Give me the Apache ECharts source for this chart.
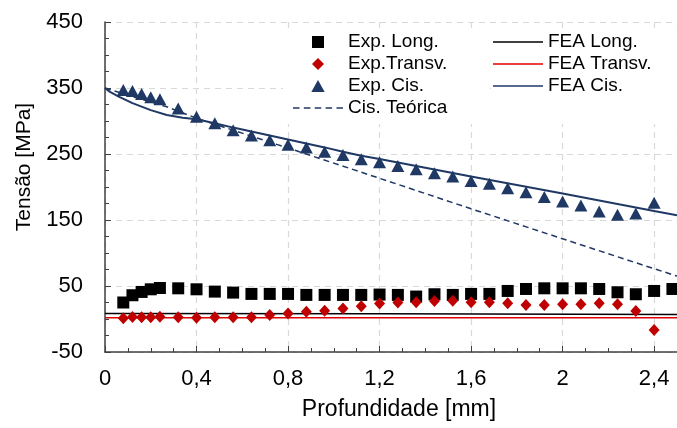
<!DOCTYPE html>
<html>
<head>
<meta charset="utf-8">
<script src="https://cdn.jsdelivr.net/npm/echarts@6/dist/echarts.min.js"></script>
<style>
html,body{margin:0;padding:0;background:#fff;}
#chart{width:677px;height:428px;}
</style>
</head>
<body>
<div id="chart"></div>
<script>
// ---- Data ----
const expX      = [0.08,0.12,0.16,0.20,0.24,0.32,0.40,0.48,0.56,0.64,0.72,0.80,0.88,0.96,1.04,1.12,1.20,1.28,1.36,1.44,1.52,1.60,1.68,1.76,1.84,1.92,2.00,2.08,2.16,2.24,2.32,2.40,2.48];
const expLong   = [25,36,41,45,47,46.5,45,41.5,40,38,38,38,36.5,36.5,36.5,36.5,37,36.5,34,37.5,36.5,38,38,42.5,45.5,46.5,46.5,46.5,45.5,40.5,37.5,42.5,45.5];
const expTransv = [1,3,2.5,2.5,3.5,2.5,2,2.5,2.5,2.5,6,8.5,11,12.5,16,19.5,23.5,25,25.3,27.3,27.7,25.3,25.3,23.7,21.2,21.2,22.2,22.2,23.7,22.2,12,-16.5,null];
const expCis    = [347,345.5,341,336,333,319,306.5,296.5,286,278,271,264,260,253.5,248.5,242,237.5,232,227,221,216,209,205,198,192,185,178,172,163,158,160,176,null];

const feaLongX   = [0, 1.2, 2.5];
const feaLong    = [8.5, 8, 7];
const feaTransvX = [0, 1.2, 2.5];
const feaTransv  = [2, 2, 2];
const feaCisX    = [0,0.02,0.06,0.12,0.20,0.27,0.34,0.40,0.48,0.56,0.64,0.72,0.80,0.88,0.96,1.04,1.12,1.20,1.60,2.00,2.40,2.50];
const feaCis     = [350,344.5,337,327,316.5,309,305,302.5,296.5,290,284,278,272,266,260,253.5,247.5,242.5,216,190,163.5,157];
const cisTeoX    = [0,0.12,0.27,0.41,0.84,1.28,1.60,2.26,2.50];
const cisTeo     = [350,337,321.5,303,254.5,204,167,92,65];

const yTicks = [-50, 50, 150, 250, 350, 450];
const xTicks = [0, 0.4, 0.8, 1.2, 1.6, 2.0, 2.4];

// ---- helpers ----
function pairs(xs, ys) {
  const out = [];
  for (let i = 0; i < xs.length; i++) if (ys[i] !== null && ys[i] !== undefined) out.push([xs[i], ys[i]]);
  return out;
}
const FONT = 'Liberation Sans, Arial, sans-serif';
const NAVY = '#1f3864';
const DRED = '#c00000';
const SOLID_ICON = 'path://M0,0h50v1.6h-50z';
const DASH_ICON = 'path://M0,0h6v1.5h-6z M10,0h6v1.5h-6z M20,0h6v1.5h-6z M30,0h6v1.5h-6z M40,0h6v1.5h-6z';

const chart = echarts.init(document.getElementById('chart'), null, {renderer: 'canvas'});
const option = {
  backgroundColor: '#ffffff',
  animation: false,
  textStyle: {fontFamily: FONT},
  grid: {left: 105, top: 22, right: -6, bottom: 76, containLabel: false},
  xAxis: {
    type: 'value', min: 0, max: 2.5, interval: 0.4,
    name: 'Profundidade [mm]', nameLocation: 'middle', nameGap: 46,
    nameTextStyle: {fontSize: 23, color: '#000', fontFamily: FONT, padding: [0, 0, 0, 16]},
    axisLine: {onZero: false, lineStyle: {color: '#404040', width: 1.5}},
    axisTick: {show: true, inside: true, length: 6, lineStyle: {color: '#404040'}},
    minorTick: {show: true, splitNumber: 4, length: 4, lineStyle: {color: '#404040'}},
    axisLabel: {
      fontSize: 22, color: '#000', margin: 16, fontFamily: FONT, showMaxLabel: false,
      formatter: v => (xTicks.some(t => Math.abs(t - v) < 1e-6) ? String(+v.toFixed(2)).replace('.', ',') : '')
    },
    splitLine: {show: true, lineStyle: {color: '#d9d9d9', type: [6, 5], width: 1.2}}
  },
  yAxis: {
    type: 'value', min: -50, max: 450, interval: 100,
    name: 'Tensão [MPa]', nameLocation: 'middle', nameGap: 70,
    nameTextStyle: {fontSize: 21, color: '#000', fontFamily: FONT, padding: [0, 0, 0, 40]},
    axisLine: {show: true, lineStyle: {color: '#404040', width: 1.5}},
    axisTick: {show: true, inside: true, length: 6, lineStyle: {color: '#404040'}},
    minorTick: {show: true, splitNumber: 4, length: 4, lineStyle: {color: '#404040'}},
    axisLabel: {
      fontSize: 22, color: '#000', margin: 22, fontFamily: FONT,
      formatter: v => (yTicks.indexOf(v) >= 0 ? String(v) : '')
    },
    splitLine: {show: true, lineStyle: {color: '#d9d9d9', type: [6, 5], width: 1.2}}
  },
  legend: [
    {
      orient: 'vertical', left: 283, top: 28,
      padding: [4, 40, 6, 10], itemGap: 2, itemWidth: 50, itemHeight: 12,
      backgroundColor: '#ffffff',
      textStyle: {fontSize: 19, color: '#000', fontFamily: FONT, lineHeight: 20},
      data: [
        {name: 'Exp. Long.', icon: 'path://M0,0L1,0L1,1L0,1Z'},
        {name: 'Exp.Transv.', icon: 'path://M1,0L2,1L1,2L0,1Z'},
        {name: 'Exp. Cis.', icon: 'path://M1,0L2,1.8L0,1.8Z'},
        {name: 'Cis. Teórica', icon: DASH_ICON}
      ]
    },
    {
      orient: 'vertical', left: 491, top: 28,
      padding: [4, 40, 28, 2], itemGap: 2, itemWidth: 50, itemHeight: 12,
      backgroundColor: '#ffffff',
      textStyle: {fontSize: 19, color: '#000', fontFamily: FONT, lineHeight: 20},
      data: [
        {name: 'FEA Long.', icon: SOLID_ICON},
        {name: 'FEA Transv.', icon: SOLID_ICON},
        {name: 'FEA Cis.', icon: SOLID_ICON}
      ]
    }
  ],
  series: [
    {name: 'Cis. Teórica', type: 'line', symbol: 'none', z: 2,
     lineStyle: {color: NAVY, width: 1.5, type: [6, 4]}, itemStyle: {color: NAVY},
     data: pairs(cisTeoX, cisTeo)},
    {name: 'FEA Long.', type: 'line', symbol: 'none', z: 2,
     lineStyle: {color: '#000', width: 1.5}, itemStyle: {color: '#000'},
     data: pairs(feaLongX, feaLong)},
    {name: 'FEA Transv.', type: 'line', symbol: 'none', z: 2,
     lineStyle: {color: '#e00000', width: 1.5}, itemStyle: {color: '#e00000'},
     data: pairs(feaTransvX, feaTransv)},
    {name: 'FEA Cis.', type: 'line', symbol: 'none', z: 2,
     lineStyle: {color: NAVY, width: 2}, itemStyle: {color: NAVY},
     data: pairs(feaCisX, feaCis)},
    {name: 'Exp. Long.', type: 'scatter', symbol: 'rect', symbolSize: 12, z: 3,
     itemStyle: {color: '#000', opacity: 1}, data: pairs(expX, expLong)},
    {name: 'Exp.Transv.', type: 'scatter', symbol: 'diamond', symbolSize: [11, 12], z: 3,
     itemStyle: {color: DRED, opacity: 1}, data: pairs(expX, expTransv)},
    {name: 'Exp. Cis.', type: 'scatter', symbol: 'triangle', symbolSize: [13, 12], z: 3,
     itemStyle: {color: NAVY, opacity: 1}, data: pairs(expX, expCis)}
  ]
};
chart.setOption(option);
</script>
</body>
</html>
